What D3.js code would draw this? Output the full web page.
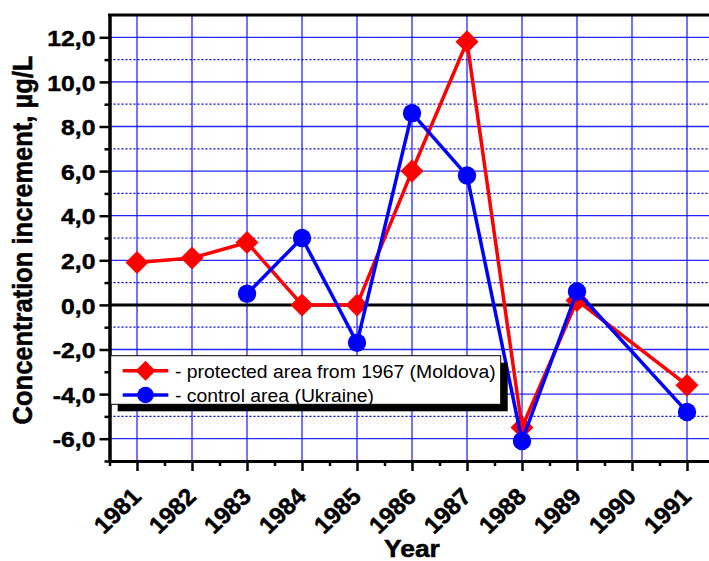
<!DOCTYPE html>
<html>
<head>
<meta charset="utf-8">
<script src="https://cdn.jsdelivr.net/npm/d3@7"></script>
<style>
  body { margin: 0; background: #fff; }
  svg { display: block; }
  text { font-family: "Liberation Sans", Arial, sans-serif; }
</style>
</head>
<body>
<svg id="chart" width="709" height="561"></svg>
<script>
// ---- Data ----
const years = [1981, 1982, 1983, 1984, 1985, 1986, 1987, 1988, 1989, 1990, 1991];
const moldova = [1.9, 2.1, 2.8, 0.0, 0.0, 6.0, 11.8, -5.5, 0.2, null, -3.6];
const ukraine = [null, null, 0.5, 3.0, -1.7, 8.6, 5.8, -6.1, 0.6, null, -4.8];
const yMajorTicks = [-6, -4, -2, 0, 2, 4, 6, 8, 10, 12];
const yMinorTicks = [-7, -5, -3, -1, 1, 3, 5, 7, 9, 11];
const xMinorTicks = [1980.5, 1981.5, 1982.5, 1983.5, 1984.5, 1985.5, 1986.5, 1987.5, 1988.5, 1989.5, 1990.5];
const seriesNames = ["- protected area from 1967 (Moldova)", "- control area (Ukraine)"];
const xTitle = "Year";
const yTitle = "Concentration increment, \u00b5g/L";

(function () {
// ---- Layout ----
const pLeft = 109.5, pRight = 714.5, pTop = 15, pBottom = 461;
const SX = 1.1; // horizontal text stretch

const svg = d3.select("#chart");
const x = d3.scaleLinear().domain([1980.5, 1991.5]).range([pLeft, pRight]);
const y = d3.scaleLinear().domain([-7, 13]).range([pBottom, pTop]);

const loc = d3.formatLocale({decimal: ",", thousands: ".", grouping: [3], currency: ["", ""], minus: "-"});
const fmt = loc.format(".1f");

// ---- Grid ----
const grid = svg.append("g");
grid.selectAll("line.v").data(years).join("line")
  .attr("x1", d => x(d)).attr("x2", d => x(d))
  .attr("y1", pTop).attr("y2", pBottom)
  .attr("stroke", "#0000ff").attr("stroke-opacity", 0.55).attr("stroke-width", 2);
grid.selectAll("line.h").data(yMajorTicks.filter(d => d !== 0)).join("line")
  .attr("x1", pLeft).attr("x2", pRight)
  .attr("y1", d => y(d)).attr("y2", d => y(d))
  .attr("stroke", "#0000ff").attr("stroke-opacity", 0.85).attr("stroke-width", 1.3);
grid.selectAll("line.m").data(yMinorTicks.filter(d => d > -7)).join("line")
  .attr("x1", pLeft).attr("x2", pRight)
  .attr("y1", d => y(d)).attr("y2", d => y(d))
  .attr("stroke", "#0000ff").attr("stroke-width", 1.2).attr("stroke-dasharray", "2,2");

// zero line
svg.append("line")
  .attr("x1", pLeft).attr("x2", pRight).attr("y1", y(0)).attr("y2", y(0))
  .attr("stroke", "#000").attr("stroke-width", 3);

// top frame
svg.append("line")
  .attr("x1", pLeft - 1.5).attr("x2", pRight).attr("y1", pTop).attr("y2", pTop)
  .attr("stroke", "#000").attr("stroke-width", 3);

// ---- Axes ----
function styleAxis(g) {
  g.select(".domain").attr("stroke", "#000").attr("stroke-width", 3);
  g.selectAll(".tick line").attr("stroke", "#000").attr("stroke-width", 2.5);
}
function boldText(sel, size) {
  sel.attr("font-size", size).attr("font-weight", "bold").attr("fill", "#000")
    .attr("stroke", "#000").attr("stroke-width", 0.5)
    .attr("font-family", "'Liberation Sans', Arial, sans-serif");
}

const yAxisMinor = svg.append("g").attr("transform", `translate(${pLeft},0)`)
  .call(d3.axisLeft(y).tickValues(yMinorTicks).tickSize(5).tickSizeOuter(0).tickFormat(""));
styleAxis(yAxisMinor);
const yAxis = svg.append("g").attr("transform", `translate(${pLeft},0)`)
  .call(d3.axisLeft(y).tickValues(yMajorTicks).tickSize(10).tickSizeOuter(0).tickFormat(fmt));
styleAxis(yAxis);
yAxis.selectAll(".tick text")
  .attr("x", 0).attr("dy", "0.36em")
  .attr("transform", `translate(-14,0) scale(${SX},1)`)
  .call(boldText, 22.5);

const xAxisMinor = svg.append("g").attr("transform", `translate(0,${pBottom})`)
  .call(d3.axisBottom(x).tickValues(xMinorTicks).tickSize(5).tickSizeOuter(0).tickFormat(""));
styleAxis(xAxisMinor);
const xAxis = svg.append("g").attr("transform", `translate(0,${pBottom})`)
  .call(d3.axisBottom(x).tickValues(years).tickSize(10).tickSizeOuter(0).tickFormat(d3.format("d")));
styleAxis(xAxis);
xAxis.selectAll(".tick text")
  .attr("x", 0).attr("y", 0).attr("dy", 0)
  .attr("text-anchor", "end")
  .attr("transform", `translate(5,37) scale(1.04,1) rotate(-45)`)
  .call(boldText, 23.5);

// axis titles
svg.append("text")
  .attr("transform", `translate(${(pLeft + pRight) / 2},557) scale(${SX},1)`)
  .attr("text-anchor", "middle")
  .call(boldText, 24)
  .text(xTitle);
svg.append("text")
  .attr("transform", `translate(32,240) scale(${SX},1) rotate(-90)`)
  .attr("text-anchor", "middle")
  .call(boldText, 25.5)
  .text(yTitle);

// ---- Series ----
function diamondPath(h) { return `M0,${-h}L${h},0L0,${h}L${-h},0Z`; }

const series = [
  {name: seriesNames[0], values: moldova, color: "#ff0000", marker: "diamond"},
  {name: seriesNames[1], values: ukraine, color: "#0000ff", marker: "circle"}
];

const line = d3.line().x(d => x(d.year)).y(d => y(d.v));

series.forEach(s => {
  const pts = years.map((yr, i) => ({year: yr, v: s.values[i]})).filter(d => d.v !== null);
  const g = svg.append("g");
  g.append("path").datum(pts).attr("d", line)
    .attr("fill", "none").attr("stroke", s.color).attr("stroke-width", 3.5)
    .attr("stroke-linejoin", "round");
  if (s.marker === "diamond") {
    g.selectAll("path.mk").data(pts).join("path")
      .attr("transform", d => `translate(${x(d.year)},${y(d.v)})`)
      .attr("d", diamondPath(11.5)).attr("fill", s.color);
  } else {
    g.selectAll("circle").data(pts).join("circle")
      .attr("cx", d => x(d.year)).attr("cy", d => y(d.v)).attr("r", 9.2)
      .attr("fill", s.color);
  }
});

// ---- Legend ----
const lg = svg.append("g");
const lx = 110.7, ly = 355.7, lw = 390, lh = 48.6;
lg.append("rect").attr("x", lx + 7).attr("y", ly + 7).attr("width", lw).attr("height", lh).attr("fill", "#000");
lg.append("rect").attr("x", lx).attr("y", ly).attr("width", lw).attr("height", lh)
  .attr("fill", "#fff").attr("stroke", "#000").attr("stroke-width", 1);
series.forEach((s, i) => {
  const cy = 370.7 + i * 24.3;
  lg.append("line").attr("x1", 122.7).attr("x2", 168.3).attr("y1", cy).attr("y2", cy)
    .attr("stroke", s.color).attr("stroke-width", 3.5);
  if (s.marker === "diamond") {
    lg.append("path").attr("transform", `translate(145.5,${cy})`).attr("d", diamondPath(10)).attr("fill", s.color);
  } else {
    lg.append("circle").attr("cx", 145.5).attr("cy", cy).attr("r", 8.3).attr("fill", s.color);
  }
  lg.append("text")
    .attr("transform", `translate(175,${cy + 6.8}) scale(${SX},1)`)
    .attr("font-size", 17.6).attr("fill", "#000")
    .text(s.name);
});
})();
</script>
</body>
</html>
